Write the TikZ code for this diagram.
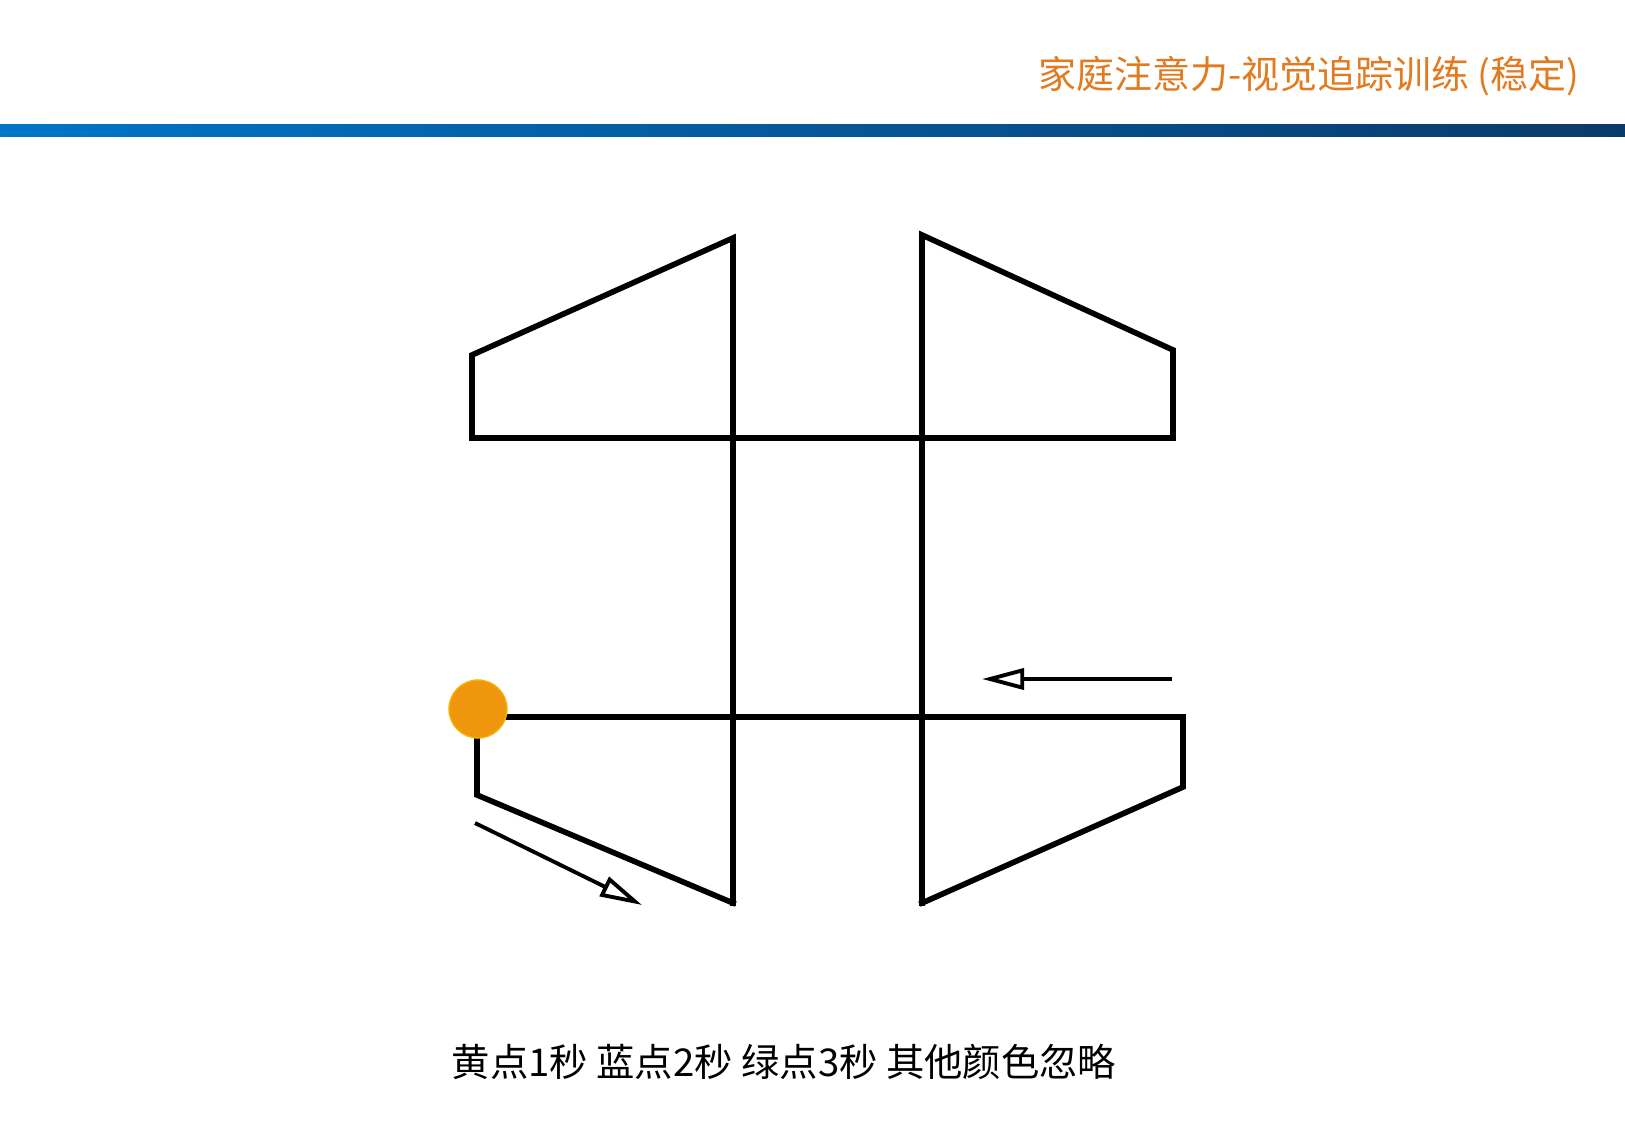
\documentclass[tikz,border=0pt]{standalone}
\usepackage{fontspec}
\usepackage{tikz}
\usetikzlibrary{arrows.meta}
\usetikzlibrary{positioning}
\newfontfamily\cjk{Noto Sans CJK SC}
\definecolor{titleorange}{RGB}{226,122,32}
\definecolor{dotorange}{RGB}{240,150,12}
\definecolor{barblue}{RGB}{0,117,201}
\definecolor{barnavy}{RGB}{10,58,105}

\begin{document}
\begin{tikzpicture}[
	x=0.01cm, y=-0.01cm,
	track/.style={line width=1.6pt, black, line join=miter, line cap=rect},
	hint/.style={line width=1.1pt, black, -{Triangle[open, length=12pt, width=6pt]}},
	dot/.style={circle, fill=dotorange, draw=dotorange!70!yellow, line width=0.4pt, minimum size=58*0.01cm, inner sep=0pt},
	font=\cjk]
  \useasboundingbox (0,0) rectangle (1625,1125);
  \shade[left color=barblue, right color=barnavy] (0,125) rectangle (1625,137);
  \node[anchor=east, inner sep=0pt, text=titleorange, font=\cjk\fontsize{10.8pt}{12pt}\selectfont] (title) at (1580,76) {家庭注意力-视觉追踪训练 (稳定)};
  \node[inner sep=0pt, font=\cjk\fontsize{10.9pt}{13pt}\selectfont] (rule) at (784,1062) {黄点1秒 蓝点2秒 绿点3秒 其他颜色忽略};
  \coordinate (ltA) at (472,438);
  \coordinate (ltB) at (472,355);
  \coordinate (ltC) at (733,238);
  \coordinate (lbot) at (733,903);
  \coordinate (rtA) at (922,235);
  \coordinate (rtB) at (1173,350);
  \coordinate (rtC) at (1173,438);
  \coordinate (rbot) at (922,903);
  \coordinate (rbA) at (1183,717);
  \coordinate (rbB) at (1183,787);
  \coordinate (lbA) at (477,795);
  \draw[track] (ltA) -- (ltB) -- (ltC) -- (lbot);
  \draw[track] (rbot) -- (rtA) -- (rtB) -- (rtC) -- (ltA);
  \draw[track] (477,717) -- (rbA) -- (rbB) -- (rbot);
  \draw[track] (477,709) -- (lbA) -- (lbot);
  \node[dot] (start) at (478,709) {};
  \coordinate (arrA) at (475,823);
  \coordinate (arrB) at (642,905);
  \coordinate (arrC) at (1172,679);
  \coordinate (arrD) at (982,679);
  \draw[hint] (arrA) -- (arrB);
  \draw[hint] (arrC) -- (arrD);
\end{tikzpicture}
\end{document}
